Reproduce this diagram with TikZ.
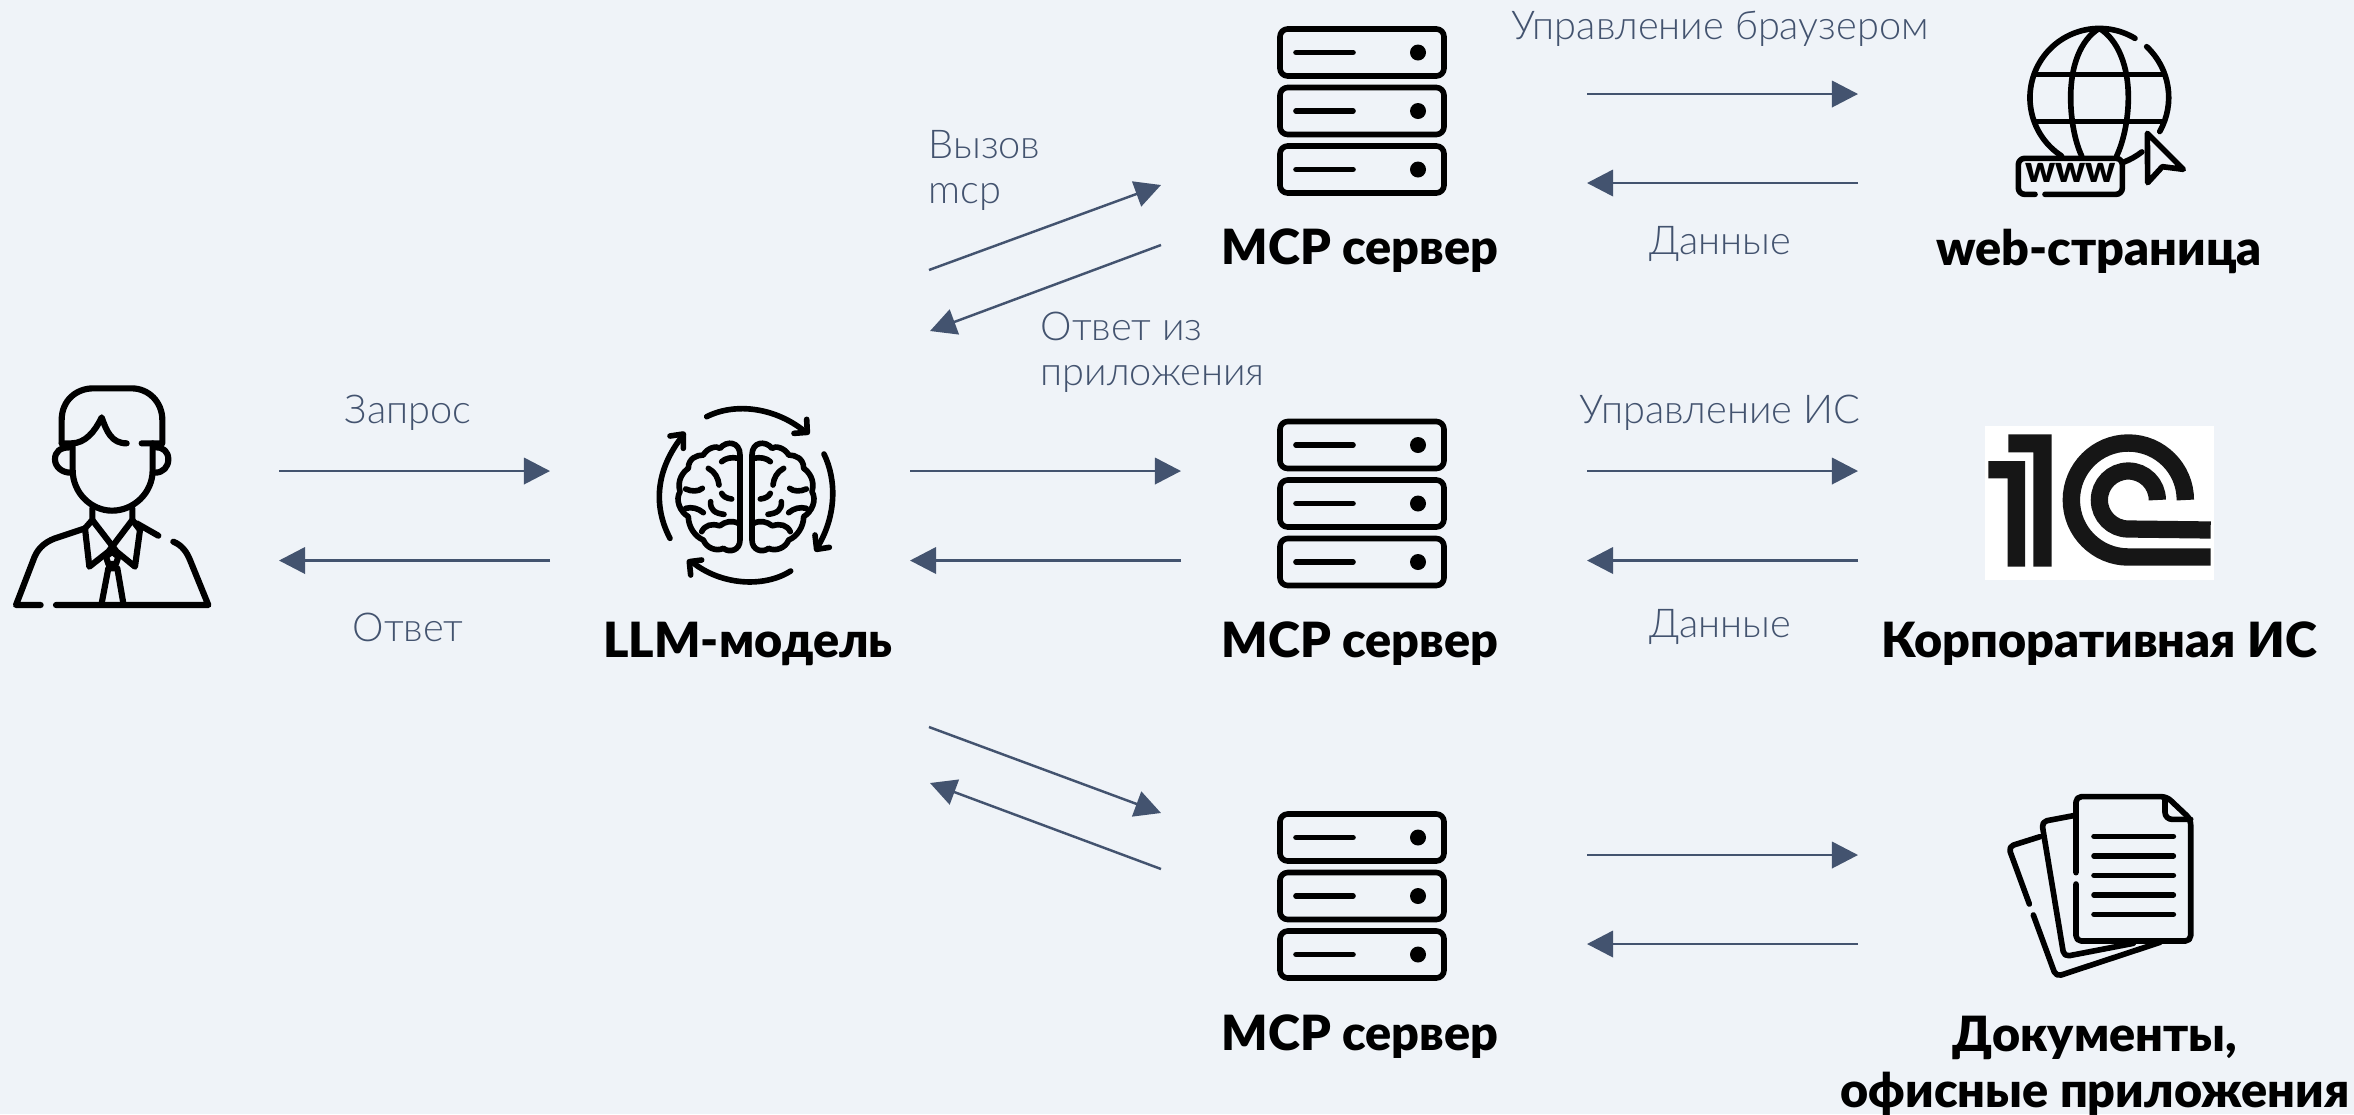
\documentclass[tikz,border=0pt]{standalone}
\usepackage{fontspec}
\setmainfont{Lato}
\newfontfamily\lightfont{Lato Light}
\newfontfamily\heavyfont{Lato Black}
\usetikzlibrary{positioning}
\usetikzlibrary{arrows.meta}
\definecolor{bgcolor}{HTML}{EFF3F8}
\definecolor{linecolor}{HTML}{43536F}
\definecolor{logoblack}{HTML}{161616}
\tikzstyle{arrow} = [draw=linecolor, line width=0.7pt, -{Triangle[length=7.4pt,width=7.5pt]}]
\tikzstyle{thin} = [text=linecolor, align=left, inner sep=0pt, font=\lightfont\fontsize{11.3}{12.8}\selectfont]
\tikzstyle{title} = [text=black, align=center, inner sep=0pt, font=\heavyfont\fontsize{13.8}{15.9}\selectfont]
\tikzstyle{icon} = [line width=1.6pt, line cap=round, line join=round]
\begin{document}
\begin{tikzpicture}[x=0.01cm,y=-0.01cm]
        \useasboundingbox (0,0) rectangle (2354,1114);
        \fill [bgcolor] (0,0) rectangle (2354,1114);
        % titles
        \node (llm) [title] at (748,644) {LLM-модель};
        \node (srv1) [title] at (1360,251) {MCP сервер};
        \node (srv2) [title, below of=srv1, node distance=3.925cm] {MCP сервер};
        \node (srv3) [title, below of=srv2, node distance=3.925cm] {MCP сервер};
        \node (web) [title] at (2099,251) {web-страница};
        \node (corp) [title] at (2099,644) {Корпоративная ИС};
        \node (docs) [title] at (2095,1066) {Документы,\\офисные приложения};
        % labels
        \node (ask) [thin] at (408,413) {Запрос};
        \node (answer) [thin] at (408,627) {Ответ};
        \node (call) [thin, anchor=west] at (928,170) {Вызов\\mcp};
        \node (reply) [thin, anchor=west] at (1040,352) {Ответ из\\приложения};
        \node (browser) [thin] at (1720,29) {Управление браузером};
        \node (data1) [thin] at (1720,244) {Данные};
        \node (manage) [thin] at (1720,413) {Управление ИС};
        \node (data2) [thin] at (1720,627) {Данные};
        % connector ends
        \coordinate (userout) at (279,471);
        \coordinate (userin) at (279,560.5);
        \coordinate (llmleft) at (550,471);
        \coordinate (llmleftb) at (550,560.5);
        \coordinate (llmout) at (910,471);
        \coordinate (llmin) at (910,560.5);
        \coordinate (mcpin) at (1181,471);
        \coordinate (mcpout) at (1181,560.5);
        \coordinate (upa) at (929,270);
        \coordinate (upb) at (1161,185);
        \coordinate (upc) at (1161,245);
        \coordinate (upd) at (930,331);
        \coordinate (downa) at (929,727);
        \coordinate (downb) at (1161,813);
        \coordinate (downc) at (1161,869);
        \coordinate (downd) at (930,783);
        \foreach \rowname/\rowy/\rowz in {a/94/183, b/471/560.5, c/855/944} {
            \coordinate (left\rowname) at (1587,\rowy);
            \coordinate (right\rowname) at (1858,\rowy);
            \coordinate (leftb\rowname) at (1587,\rowz);
            \coordinate (rightb\rowname) at (1858,\rowz);
            \draw [arrow] (left\rowname) -- (right\rowname);
            \draw [arrow] (rightb\rowname) -- (leftb\rowname);
        }
        \draw [arrow] (userout) -- (llmleft);
        \draw [arrow] (llmleftb) -- (userin);
        \draw [arrow] (llmout) -- (mcpin);
        \draw [arrow] (mcpout) -- (llmin);
        \draw [arrow] (upa) -- (upb);
        \draw [arrow] (upc) -- (upd);
        \draw [arrow] (downa) -- (downb);
        \draw [arrow] (downc) -- (downd);
        % user
        \begin{scope}[shift={(0,360)},scale=1/3,icon,line width=1.75pt]
            \draw (185,250) -- (185,180) .. controls (185,120) and (230,85) .. (280,85) -- (395,85) .. controls (445,85) and (487,125) .. (487,180) -- (487,250) -- (425,250);
            \draw (185,250) -- (215,250) .. controls (255,250) and (285,215) .. (305,172) .. controls (320,215) and (335,250) .. (380,250);
            \draw (218,250) -- (218,330) .. controls (218,400) and (275,452) .. (336,452) .. controls (400,452) and (458,400) .. (458,330) -- (458,250);
            \draw (210,262) .. controls (180,262) and (165,275) .. (165,298) .. controls (165,320) and (185,338) .. (212,338);
            \draw (468,262) .. controls (490,262) and (505,275) .. (505,298) .. controls (505,320) and (490,338) .. (465,338);
            \draw (277,445) -- (277,480) -- (255,505) -- (268,620) -- (325,575) -- (397,480) -- (397,445);
            \draw (277,480) -- (350,575) -- (405,620) -- (420,510) -- (397,480);
            \draw (336,575) -- (355,590) -- (348,612) -- (325,612) -- (318,590) -- cycle;
            \draw (305,730) -- (325,625) -- (352,625) -- (370,730);
            \draw (122,735) -- (48,735) -- (100,600) .. controls (110,570) and (130,548) .. (165,535) -- (255,505);
            \draw (168,735) -- (625,735) -- (570,600) .. controls (560,575) and (545,555) .. (520,545);
            \draw (410,490) -- (475,527);
        \end{scope}
        % brain
        \begin{scope}[shift={(620,380)},scale=1/3,icon]
            \draw (260,110) .. controls (350,65) and (470,85) .. (555,155);
            \draw (522,160) -- (562,157) -- (560,118);
            \draw (612,222) .. controls (650,300) and (650,410) .. (590,505);
            \draw (585,465) -- (590,508) -- (628,502);
            \draw (512,573) .. controls (430,625) and (300,615) .. (215,545);
            \draw (245,540) -- (208,545) -- (212,585);
            \draw (150,475) .. controls (100,380) and (105,270) .. (190,165);
            \draw (150,168) -- (190,162) -- (190,205);
            \foreach \side/\mirror in {0/1,756/-1} {
                \begin{scope}[shift={(\side,0)},xscale=\mirror]
                    \draw (360,480) .. controls (360,510) and (330,520) .. (310,505) .. controls (290,515) and (260,505) .. (250,480) .. controls (225,470) and (205,440) .. (205,410) .. controls (180,395) and (165,360) .. (180,335) .. controls (170,300) and (190,275) .. (205,265) .. controls (205,235) and (230,225) .. (250,225) .. controls (260,205) and (290,195) .. (300,205) .. controls (320,180) and (360,185) .. (360,225) -- cycle;
                    \draw (305,245) .. controls (315,235) and (335,230) .. (355,235);
                    \draw (265,265) .. controls (285,275) and (295,295) .. (297,315);
                    \draw (197,327) .. controls (215,335) and (235,335) .. (247,325);
                    \draw (305,340) .. controls (310,350) and (320,355) .. (335,357);
                    \draw (272,365) .. controls (270,390) and (285,400) .. (312,403);
                    \draw (197,385) .. controls (215,380) and (235,385) .. (250,398);
                    \draw (245,455) .. controls (255,435) and (275,430) .. (297,437);
                    \draw (300,437) .. controls (315,425) and (335,420) .. (355,430);
                \end{scope}
            }
        \end{scope}
        % servers
        \foreach \srvy in {0,392.5,785} {
            \begin{scope}[shift={(0,\srvy)},icon]
                \foreach \boxy in {29,87.5,146} {
                    \draw [rounded corners=2.2pt] (1280,\boxy) rectangle (1444,\boxy+47);
                    \draw (1296,\boxy+23.5) -- (1353,\boxy+23.5);
                    \fill (1418,\boxy+23.5) circle (8);
                }
            \end{scope}
        }
        % globe
        \begin{scope}[shift={(2000,10)},scale=1/3,icon]
            \draw (405,85) arc[start angle=-59,end angle=-237,radius=208];
            \draw (440,110) arc[start angle=-47,end angle=29.5,radius=208];
            \draw (372,456) arc[start angle=69,end angle=52,radius=208];
            \draw (245,438) .. controls (225,395) and (212,330) .. (212,262) .. controls (212,170) and (240,90) .. (298,55) .. controls (355,90) and (385,170) .. (385,262) .. controls (385,330) and (370,395) .. (350,438);
            \draw (110,193) -- (487,193);
            \draw (105,335) -- (490,335);
            \draw [rounded corners=1.8pt] (105,553) -- (55,553) -- (55,445) -- (367,445) -- (367,553) -- (135,553);
            \draw (442,370) -- (550,478) -- (487,470) -- (443,518) -- cycle;
            \node (www) [inner sep=0pt, font=\heavyfont\fontsize{10.5}{10.5}\selectfont] at (211,490) {www};
        \end{scope}
        % 1C logo
        \begin{scope}[shift={(1970,410)},scale=1/3]
            \fill [white] (45,48) rectangle (732,510);
            \fill [logoblack] (115,73) -- (245,73) -- (245,470) -- (190,470) -- (190,127) -- (115,127) -- cycle;
            \fill [logoblack] (55,153) -- (165,153) -- (165,470) -- (113,470) -- (113,205) -- (55,205) -- cycle;
            \draw [logoblack, line width=4.95pt] (646,270) arc[start angle=0,end angle=-270,radius=171] -- (722,441);
            \draw [logoblack, line width=4.9pt] (562,270) arc[start angle=0,end angle=-270,radius=87] -- (722,360);
        \end{scope}
        % documents
        \begin{scope}[shift={(1990,780)},scale=1/3,icon]
            \draw [rounded corners=1.5pt] (258,278) -- (258,50) -- (530,50) -- (602,118) -- (602,483) -- (258,483) -- (258,312);
            \draw [rounded corners=2pt] (525,55) -- (525,118) -- (602,118);
            \foreach \liney in {169,228,286,345,403} {
                \draw (312,\liney) -- (550,\liney);
            }
            \draw [rounded corners=1.5pt] (250,107) -- (155,125) -- (222,530) -- (430,490);
            \draw [rounded corners=1.5pt] (150,170) -- (55,200) -- (118,372);
            \draw [rounded corners=1.5pt] (130,405) -- (198,590) -- (510,487);
        \end{scope}
    \end{tikzpicture}
\end{document}
